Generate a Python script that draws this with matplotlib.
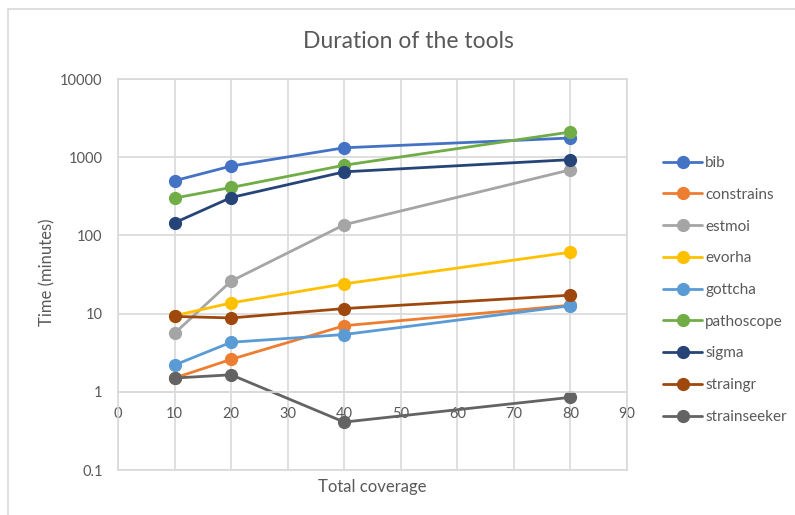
import numpy as np
import matplotlib as mpl
mpl.use("Agg")
from matplotlib import pyplot as plt
from matplotlib.patches import Rectangle

plt.rcParams['font.family'] = ['Lato', 'DejaVu Sans']

coverage = [10, 20, 40, 80]

tools = ["bib", "constrains", "estmoi", "evorha", "gottcha",
         "pathoscope", "sigma", "straingr", "strainseeker"]

bib = [500, 770, 1320, 1760]
constrains = [1.5, 2.6, 7.0, 12.8]
estmoi = [5.6, 26, 137, 690]
evorha = [9.4, 13.7, 24, 61]
gottcha = [2.2, 4.3, 5.4, 12.6]
pathoscope = [300, 410, 790, 2100]
sigma = [145, 305, 650, 930]
straingr = [9.2, 8.8, 11.6, 17.2]
strainseeker = [1.5, 1.65, 0.41, 0.85]

values = [bib, constrains, estmoi, evorha, gottcha,
          pathoscope, sigma, straingr, strainseeker]

colors = ["#4472C4", "#ED7D31", "#A5A5A5", "#FFC000", "#5B9BD5",
          "#70AD47", "#264478", "#9E480E", "#636363"]

text_col = "#595959"
grid_col = "#D9D9D9"

fig = plt.figure(figsize=(7.95, 5.15), dpi=100)
W, H = 795.0, 515.0
ax = fig.add_axes([118/W, 1 - 470/H, 509/W, 391/H])

for name, vals, c in zip(tools, values, colors):
    ax.plot(coverage, vals, '-o', color=c, lw=2.0, ms=8.5, label=name,
            solid_capstyle='round')

ax.set_yscale('log')
ax.set_ylim(0.1, 10000)
ax.set_xlim(0, 90)
ax.set_xticks(np.arange(0, 91, 10))
ax.set_yticks([0.1, 1, 10, 100, 1000, 10000])
ax.set_yticklabels(["0.1", "1", "10", "100", "1000", "10000"])
ax.yaxis.set_minor_locator(mpl.ticker.NullLocator())

ax.grid(True, color=grid_col, lw=1.2)
ax.set_axisbelow(True)
for s in ['top', 'right', 'left']:
    ax.spines[s].set_color(grid_col)
    ax.spines[s].set_linewidth(1.2)
# x axis crosses at 1
ax.spines['bottom'].set_position(('data', 1))
ax.spines['bottom'].set_color(grid_col)
ax.spines['bottom'].set_linewidth(1.2)
ax.axhline(0.1, color=grid_col, lw=1.2, zorder=0.5, clip_on=False)

ax.tick_params(axis='both', length=0, labelsize=10.5, labelcolor=text_col)
ax.tick_params(axis='x', pad=11)
ax.tick_params(axis='y', pad=11)

fig.text(372/W, 1 - 487/H, "Total coverage", ha='center', va='center',
         fontsize=12, color=text_col)
fig.text(47/W, 1 - 272/H, "Time (minutes)", ha='center', va='center',
         rotation=90, fontsize=12, color=text_col)
fig.text(408/W, 1 - 42/H, "Duration of the tools", ha='center', va='center',
         fontsize=16.5, color=text_col)

ax.legend(loc='upper left', bbox_to_anchor=(657/W, 1 - 150/H),
          bbox_transform=fig.transFigure, frameon=False, fontsize=11,
          labelspacing=1.16, handlelength=2.55, handletextpad=0.2,
          labelcolor=text_col, borderaxespad=0)

# chart area border
fig.patches.append(Rectangle((8/W, -0.1), 1.2, 1 - 9/H + 0.1,
                             transform=fig.transFigure, fill=False,
                             edgecolor=grid_col, lw=1.2))

fig.savefig("out.png", dpi=100)
